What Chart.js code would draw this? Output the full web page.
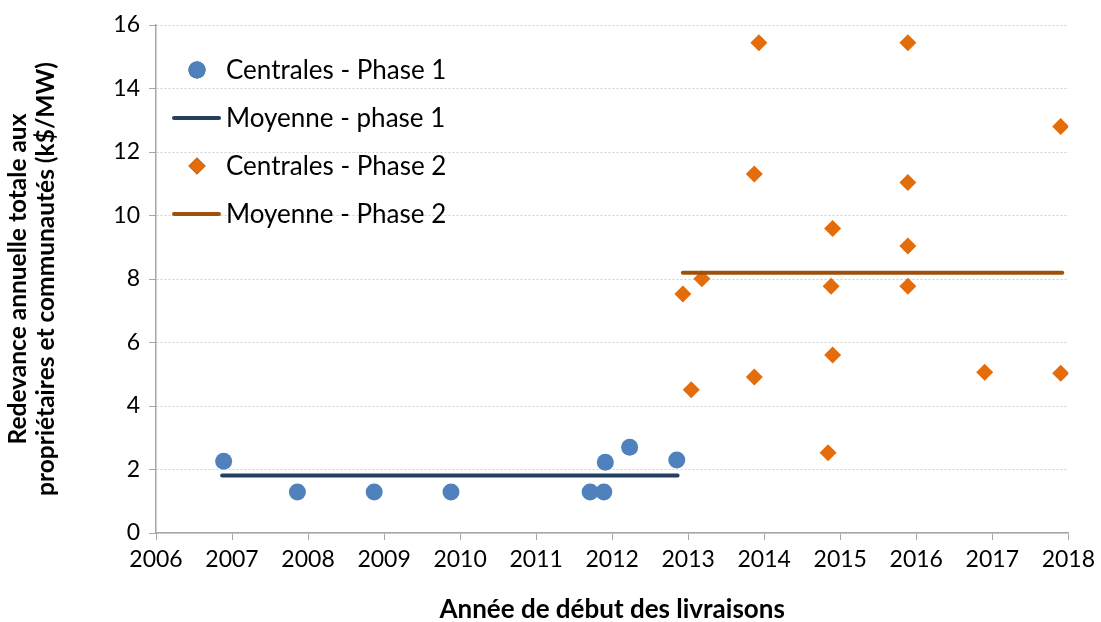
<!DOCTYPE html>
<html lang="fr">
<head>
<meta charset="utf-8">
<title>Redevance annuelle</title>
<script src="https://cdn.jsdelivr.net/npm/chart.js@4/dist/chart.umd.min.js"></script>
<style>
  html, body { margin: 0; padding: 0; background: #fff; }
  #wrap { width: 1101px; height: 622px; }
</style>
</head>
<body>
<div id="wrap"><canvas id="chartRedevance" width="1101" height="622"></canvas></div>
<script>
// Centrales - Phase 1
const phase1Annees = [2006.89, 2007.86, 2008.87, 2009.88, 2011.71, 2011.89, 2011.91, 2012.23, 2012.85];
const phase1Valeurs = [2.26, 1.29, 1.29, 1.29, 1.29, 1.29, 2.23, 2.70, 2.30];

// Moyenne - phase 1 (debut, fin)
const moyenne1Annees = [2006.87, 2012.86];
const moyenne1Valeur = 1.81;

// Centrales - Phase 2
const phase2Annees = [2013.93, 2015.89, 2017.90, 2013.87, 2015.89, 2014.90, 2015.89, 2013.18, 2012.93,
  2014.88, 2015.89, 2014.90, 2016.90, 2017.90, 2013.87, 2013.04, 2014.84];
const phase2Valeurs = [15.44, 15.44, 12.80, 11.31, 11.04, 9.59, 9.04, 8.01, 7.53,
  7.77, 7.77, 5.61, 5.06, 5.03, 4.91, 4.51, 2.53];

// Moyenne - Phase 2 (debut, fin)
const moyenne2Annees = [2012.93, 2017.92];
const moyenne2Valeur = 8.20;

const anneesTicks = [2006, 2007, 2008, 2009, 2010, 2011, 2012, 2013, 2014, 2015, 2016, 2017, 2018];

const POLICE = "Lato, 'Open Sans', sans-serif";
const PAD_LEFT = 4;
const PLOT_LEFT = 156;
const PLOT_BOTTOM = 533;

// légende dessinée dans la zone du graphique, en haut à gauche
const legendeInterne = {
  id: "legendeInterne",
  afterDraw(chart) {
    const ctx = chart.ctx;
    const x0 = 197;
    const y0 = 70;
    const pas = 48;
    ctx.save();
    ctx.font = `26px ${POLICE}`;
    ctx.textBaseline = "middle";
    ctx.textAlign = "left";
    chart.data.datasets.forEach((ds, i) => {
      const y = y0 + i * pas;
      if (ds.showLine) {
        ctx.strokeStyle = ds.borderColor;
        ctx.lineWidth = ds.borderWidth;
        ctx.lineCap = "round";
        ctx.beginPath();
        ctx.moveTo(x0 - 23, y);
        ctx.lineTo(x0 + 22, y);
        ctx.stroke();
      } else {
        Chart.helpers.drawPoint(ctx, {
          pointStyle: ds.pointStyle,
          radius: ds.pointRadius,
          borderWidth: 0
        }, x0, y);
        ctx.fillStyle = ds.backgroundColor;
        ctx.fill();
      }
      ctx.fillStyle = "#000";
      ctx.fillText(ds.label, x0 + 29, y + 1);
    });
    ctx.restore();
  }
};

new Chart(document.getElementById("chartRedevance"), {
  type: "scatter",
  data: {
    datasets: [
      {
        label: "Centrales - Phase 1",
        data: phase1Annees.map((a, i) => ({ x: a, y: phase1Valeurs[i] })),
        pointStyle: "circle",
        pointRadius: 8.5,
        pointHoverRadius: 8.5,
        backgroundColor: "#4F81BD",
        borderWidth: 0,
        order: 4
      },
      {
        label: "Moyenne - phase 1",
        data: moyenne1Annees.map(a => ({ x: a, y: moyenne1Valeur })),
        showLine: true,
        borderColor: "#243F60",
        borderWidth: 4,
        borderCapStyle: "round",
        pointRadius: 0,
        order: 3
      },
      {
        label: "Centrales - Phase 2",
        data: phase2Annees.map((a, i) => ({ x: a, y: phase2Valeurs[i] })),
        pointStyle: "rectRot",
        pointRadius: 8.5,
        pointHoverRadius: 8.5,
        backgroundColor: "#E46C0A",
        borderWidth: 0,
        order: 2
      },
      {
        label: "Moyenne - Phase 2",
        data: moyenne2Annees.map(a => ({ x: a, y: moyenne2Valeur })),
        showLine: true,
        borderColor: "#A0500A",
        borderWidth: 4,
        borderCapStyle: "round",
        pointRadius: 0,
        order: 1
      }
    ]
  },
  options: {
    responsive: false,
    animation: false,
    layout: { padding: { top: 25, right: 30, left: PAD_LEFT, bottom: 0 } },
    plugins: {
      legend: { display: false },
      tooltip: { enabled: false }
    },
    scales: {
      x: {
        type: "linear",
        min: 2006,
        max: 2018,
        afterBuildTicks: scale => {
          scale.ticks = anneesTicks.map(v => ({ value: v }));
        },
        afterFit: scale => { scale.height = 622 - PLOT_BOTTOM; },
        ticks: {
          color: "#000",
          font: { family: POLICE, size: 23 },
          padding: 6,
          maxRotation: 0,
          callback: v => String(v)
        },
        grid: {
          drawOnChartArea: false,
          drawTicks: true,
          tickLength: 7,
          tickColor: "#A6A6A6"
        },
        border: { color: "#A6A6A6", width: 1.5 },
        title: {
          display: true,
          text: "Année de début des livraisons",
          color: "#000",
          font: { family: POLICE, size: 26, weight: "bold" },
          padding: { top: 4, bottom: -3 }
        }
      },
      y: {
        min: 0,
        max: 16,
        afterFit: scale => { scale.width = PLOT_LEFT - PAD_LEFT; },
        ticks: {
          stepSize: 2,
          color: "#000",
          font: { family: POLICE, size: 23 },
          padding: 9
        },
        grid: {
          color: "#D0D0D0",
          lineWidth: 1,
          drawTicks: true,
          tickLength: 7,
          tickColor: "#A6A6A6",
          tickBorderDash: [],
        },
        border: { color: "#A6A6A6", width: 1.5, dash: [2, 2] },
        title: {
          display: true,
          text: ["Redevance annuelle totale aux", "propriétaires et communautés (k$/MW)"],
          color: "#000",
          font: { family: POLICE, size: 24.5, weight: "bold", lineHeight: 1.15 },
          padding: { top: 0, bottom: 0 }
        }
      }
    }
  },
  plugins: [legendeInterne]
});
</script>
</body>
</html>
